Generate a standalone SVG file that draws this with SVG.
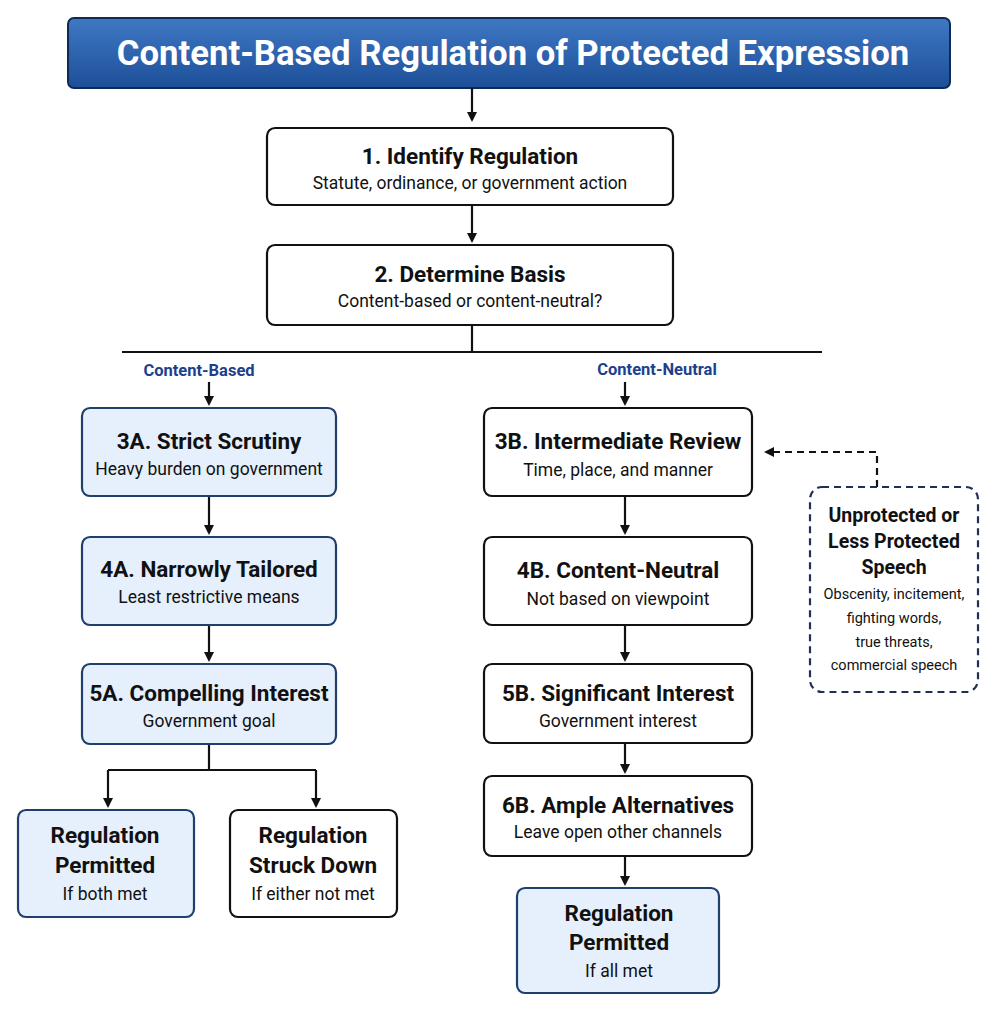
<svg xmlns="http://www.w3.org/2000/svg" width="996" height="1011" viewBox="0 0 996 1011">
<defs>
<linearGradient id="tg" x1="0" y1="0" x2="0" y2="1"><stop offset="0" stop-color="#3f78c4"/><stop offset="1" stop-color="#1d4f98"/></linearGradient>
<marker id="ah" markerWidth="10" markerHeight="10" refX="8" refY="5" orient="auto" markerUnits="userSpaceOnUse"><path d="M0,0 L10,5 L0,10 Z" fill="#111"/></marker>
<style>
.b{fill:#fff;stroke:#111;stroke-width:2.2}
.l{fill:#e5f0fc;stroke:#1f3f6e;stroke-width:2.2}
.t{font-family:Roboto,"Liberation Sans",sans-serif;font-weight:bold;font-size:22.5px;fill:#111;text-anchor:middle}
.s{font-family:Roboto,"Liberation Sans",sans-serif;font-size:17.5px;fill:#111;text-anchor:middle}
.x{font-family:Roboto,"Liberation Sans",sans-serif;font-size:14.5px;fill:#111;text-anchor:middle}
.c{fill:none;stroke:#111;stroke-width:2.2}
.lb{font-family:Roboto,"Liberation Sans",sans-serif;font-weight:bold;font-size:16.5px;fill:#1d3f8f;text-anchor:middle}
</style>
</defs>
<rect width="996" height="1011" fill="#fff"/>
<g id="title"><rect x="68" y="18" width="882" height="70" rx="6" fill="url(#tg)" stroke="#0f2a55" stroke-width="2"/>
<text x="513" y="65" font-family="Roboto,'Liberation Sans',sans-serif" font-weight="bold" font-size="34.7" fill="#fff" text-anchor="middle">Content-Based Regulation of Protected Expression</text></g>
<g id="connectors">
<path class="c" d="M472,88V120" marker-end="url(#ah)"/>
<path class="c" d="M472,205V241" marker-end="url(#ah)"/>
<path class="c" d="M472,325V352M122,352H822"/>
<path class="c" d="M209,382V404" marker-end="url(#ah)"/>
<path class="c" d="M625,382V404" marker-end="url(#ah)"/>
<path class="c" d="M209,496V533" marker-end="url(#ah)"/>
<path class="c" d="M209,625V660" marker-end="url(#ah)"/>
<path class="c" d="M209,744V770M108,770H316"/>
<path class="c" d="M108,770V806" marker-end="url(#ah)"/>
<path class="c" d="M316,770V806" marker-end="url(#ah)"/>
<path class="c" d="M625,496V533" marker-end="url(#ah)"/>
<path class="c" d="M625,625V660" marker-end="url(#ah)"/>
<path class="c" d="M625,743V772" marker-end="url(#ah)"/>
<path class="c" d="M625,856V884" marker-end="url(#ah)"/>
<path class="c" d="M877,487V452H766" stroke-dasharray="7,5" marker-end="url(#ah)"/>
<text class="lb" x="199" y="376">Content-Based</text>
<text class="lb" x="657" y="375">Content-Neutral</text>
</g>
<g id="n1"><rect class="b" x="267" y="128" width="406" height="77" rx="8"/><text class="t" x="470" y="164">1. Identify Regulation</text><text class="s" x="470" y="189">Statute, ordinance, or government action</text></g>
<g id="n2"><rect class="b" x="267" y="245" width="406" height="80" rx="8"/><text class="t" x="470" y="282">2. Determine Basis</text><text class="s" x="470" y="307">Content-based or content-neutral?</text></g>
<g id="n3a"><rect class="l" x="82" y="408" width="254" height="88" rx="8"/><text class="t" x="209" y="449">3A. Strict Scrutiny</text><text class="s" x="209" y="475">Heavy burden on government</text></g>
<g id="n4a"><rect class="l" x="82" y="537" width="254" height="88" rx="8"/><text class="t" x="209" y="577">4A. Narrowly Tailored</text><text class="s" x="209" y="603">Least restrictive means</text></g>
<g id="n5a"><rect class="l" x="82" y="664" width="254" height="80" rx="8"/><text class="t" x="209" y="701">5A. Compelling Interest</text><text class="s" x="209" y="727">Government goal</text></g>
<g id="permA"><rect class="l" x="18" y="810" width="176" height="107" rx="8"/><text class="t" x="105" y="843">Regulation</text><text class="t" x="105" y="873">Permitted</text><text class="s" x="105" y="900">If both met</text></g>
<g id="struck"><rect class="b" x="230" y="810" width="167" height="107" rx="8"/><text class="t" x="313" y="843">Regulation</text><text class="t" x="313" y="873">Struck Down</text><text class="s" x="313" y="900">If either not met</text></g>
<g id="n3b"><rect class="b" x="484" y="408" width="268" height="88" rx="8"/><text class="t" x="618" y="449">3B. Intermediate Review</text><text class="s" x="618" y="476">Time, place, and manner</text></g>
<g id="n4b"><rect class="b" x="484" y="537" width="268" height="88" rx="8"/><text class="t" x="618" y="578">4B. Content-Neutral</text><text class="s" x="618" y="605">Not based on viewpoint</text></g>
<g id="n5b"><rect class="b" x="484" y="664" width="268" height="79" rx="8"/><text class="t" x="618" y="701">5B. Significant Interest</text><text class="s" x="618" y="727">Government interest</text></g>
<g id="n6b"><rect class="b" x="484" y="776" width="268" height="80" rx="8"/><text class="t" x="618" y="813">6B. Ample Alternatives</text><text class="s" x="618" y="838">Leave open other channels</text></g>
<g id="permB"><rect class="l" x="517" y="888" width="202" height="105" rx="8"/><text class="t" x="619" y="921">Regulation</text><text class="t" x="619" y="950">Permitted</text><text class="s" x="619" y="977">If all met</text></g>
<g id="unprot"><rect x="810" y="487" width="168" height="205" rx="12" fill="#fff" stroke="#1f2f55" stroke-width="2.2" stroke-dasharray="7,5"/>
<text class="t" x="894" y="522" style="font-size:19.5px">Unprotected or</text><text class="t" x="894" y="548" style="font-size:19.5px">Less Protected</text><text class="t" x="894" y="574" style="font-size:19.5px">Speech</text>
<text class="x" x="894" y="599">Obscenity, incitement,</text><text class="x" x="894" y="623">fighting words,</text><text class="x" x="894" y="647">true threats,</text><text class="x" x="894" y="670">commercial speech</text></g>
</svg>
